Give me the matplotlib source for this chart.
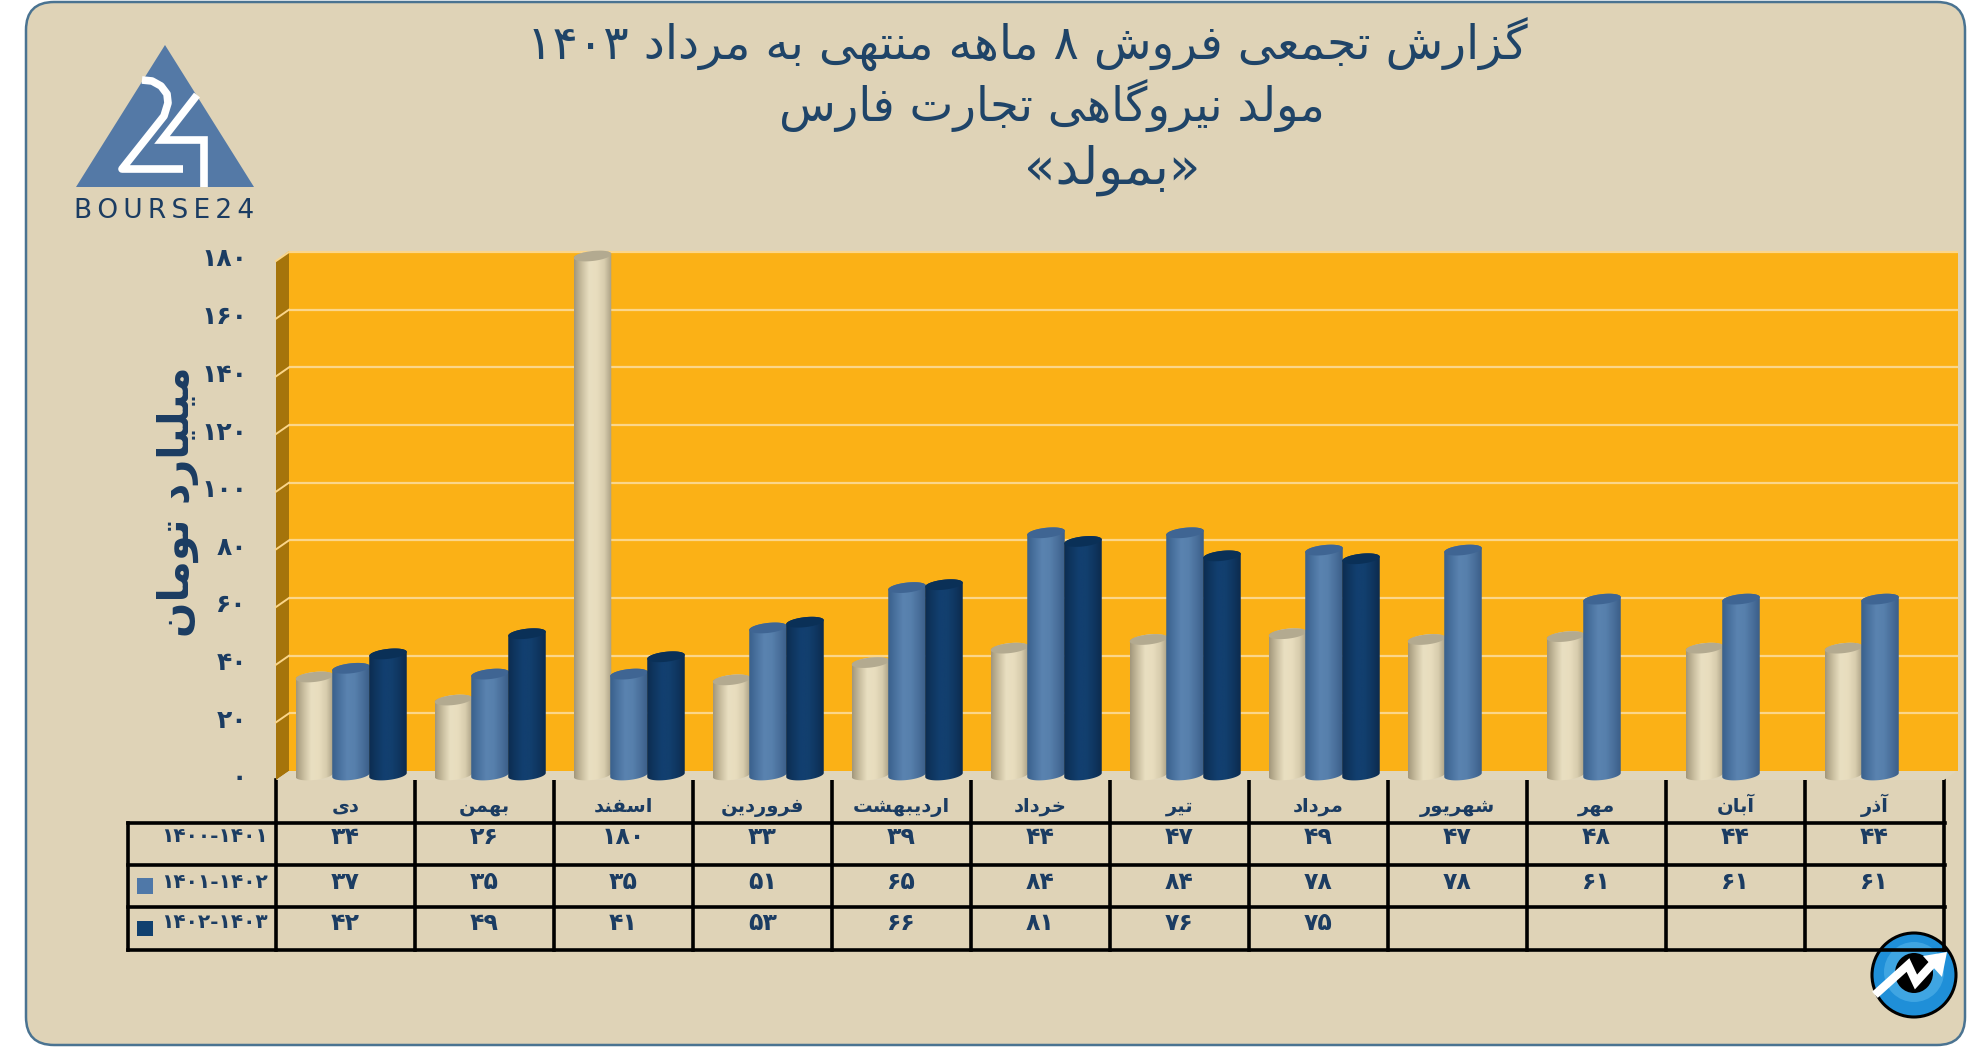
import re
import numpy as np
import matplotlib
matplotlib.use('Agg')
import matplotlib.pyplot as plt
from matplotlib.colors import LinearSegmentedColormap
from matplotlib.patches import Polygon, FancyBboxPatch, Circle, Ellipse
from matplotlib.transforms import offset_copy, Affine2D

# data
months = ['دی', 'بهمن', 'اسفند', 'فروردین', 'اردیبهشت', 'خرداد', 'تیر', 'مرداد', 'شهریور', 'مهر', 'آبان', 'آذر']
series_1 = [34, 26, 180, 33, 39, 44, 47, 49, 47, 48, 44, 44]
series_2 = [37, 35, 35, 51, 65, 84, 84, 78, 78, 61, 61, 61]
series_3 = [42, 49, 41, 53, 66, 81, 76, 75, None, None, None, None]
row_names = ['1400-1401', '1401-1402', '1402-1403']
y_ticks = [0, 20, 40, 60, 80, 100, 120, 140, 160, 180]
title_lines = ['گزارش تجمعی فروش ۸ ماهه منتهی به مرداد ۱۴۰۳', 'مولد نیروگاهی تجارت فارس', '«بمولد»']
y_title = 'میلیارد تومان'

# colours
BG = '#DFD3B7'
NAVY = '#1B3C62'
WALL = '#FBB116'
SIDE = '#A5740B'
GRID = '#FBD68A'

# matplotlib does no arabic shaping, so pick presentation forms by hand
FORMS = {
    'ا': (0xFE8D, 0xFE8E), 'آ': (0xFE81, 0xFE82), 'د': (0xFEA9, 0xFEAA), 'ذ': (0xFEAB, 0xFEAC),
    'ر': (0xFEAD, 0xFEAE), 'ز': (0xFEAF, 0xFEB0), 'و': (0xFEED, 0xFEEE),
    'ب': (0xFE8F, 0xFE90, 0xFE91, 0xFE92), 'ت': (0xFE95, 0xFE96, 0xFE97, 0xFE98),
    'ج': (0xFE9D, 0xFE9E, 0xFE9F, 0xFEA0), 'خ': (0xFEA5, 0xFEA6, 0xFEA7, 0xFEA8),
    'س': (0xFEB1, 0xFEB2, 0xFEB3, 0xFEB4), 'ش': (0xFEB5, 0xFEB6, 0xFEB7, 0xFEB8),
    'ع': (0xFEC9, 0xFECA, 0xFECB, 0xFECC), 'ف': (0xFED1, 0xFED2, 0xFED3, 0xFED4),
    'ک': (0xFB8E, 0xFB8F, 0xFB90, 0xFB91), 'گ': (0xFB92, 0xFB93, 0xFB94, 0xFB95),
    'ل': (0xFEDD, 0xFEDE, 0xFEDF, 0xFEE0), 'م': (0xFEE1, 0xFEE2, 0xFEE3, 0xFEE4),
    'ن': (0xFEE5, 0xFEE6, 0xFEE7, 0xFEE8), 'ه': (0xFEE9, 0xFEEA, 0xFEEB, 0xFEEC),
    'ی': (0xFBFC, 0xFBFD, 0xFBFE, 0xFBFF),
}
MIRROR = {'«': '»', '»': '«'}


def fa(text):
    return str(text).translate(str.maketrans('0123456789', '۰۱۲۳۴۵۶۷۸۹'))


def shape(text):
    out = ''
    for i, c in enumerate(text):
        if c not in FORMS:
            out += MIRROR.get(c, c)
            continue
        prev_c = text[i - 1] if i > 0 else ''
        next_c = text[i + 1] if i < len(text) - 1 else ''
        joins_prev = prev_c in FORMS and len(FORMS[prev_c]) == 4
        joins_next = next_c in FORMS and len(FORMS[c]) == 4
        if joins_prev and joins_next:
            form = 3
        elif joins_next:
            form = 2
        elif joins_prev:
            form = 1
        else:
            form = 0
        out += chr(FORMS[c][form])
    return ''.join(reversed(re.findall('[۰-۹]+|.', out)))


W, H = 1986, 1047
fig = plt.figure(figsize=(W / 100, H / 100), dpi=100, facecolor='white')

# page layer, in pixels of the picture
bg = fig.add_axes([0, 0, 1, 1])
bg.set_xlim(0, W)
bg.set_ylim(H, 0)
bg.axis('off')

bg.add_patch(FancyBboxPatch((51, 27), 1889, 993, boxstyle='round,pad=25,rounding_size=28',
                            fc=BG, ec='#4A7391', lw=1.8))

# titles
bg.text(1027, 44, shape(title_lines[0]), fontsize=34, color='#1F4468', ha='center', va='center')
bg.text(1052, 105, shape(title_lines[1]), fontsize=33.5, color='#1F4468', ha='center', va='center')
bg.text(1112, 170, shape(title_lines[2]), fontsize=37, color='#1F4468', ha='center', va='center')

# logo top left
bg.add_patch(Polygon([(165, 45), (76, 187), (254, 187)], fc='#5479A6', ec='none'))
bg.plot([142, 152, 161, 167, 168, 164, 122, 183], [80, 81, 86, 94, 103, 116, 169, 169], color='white', lw=5.5,
        solid_joinstyle='round', solid_capstyle='butt')
bg.plot([197, 162, 204, 204], [95, 140, 140, 187], color='white', lw=5.5,
        solid_joinstyle='miter', solid_capstyle='butt')
bg.text(164, 211, '\u2009'.join('BOURSE24'), fontsize=19, color=NAVY, ha='center', va='center')

# logo bottom right
bg.add_patch(Circle((1914, 975), 42, fc='#1F8FD8', ec='black', lw=2.2))
bg.add_patch(Circle((1914, 972), 30, fc='#55B4EA', ec='none', alpha=0.6))
bg.add_patch(Ellipse((1914, 973), 38, 40, fc='black', ec='none'))
bg.plot([1878, 1908, 1916, 1936], [992, 965, 982, 960], color='white', lw=6, solid_joinstyle='miter')
bg.add_patch(Polygon([(1947, 952), (1923, 956), (1942, 977)], fc='white', ec='none'))

# table
col_left = 276
col_w = 139
row_lines = [823, 865, 907, 950]
row_text = [837, 882, 923]
for y in row_lines:
    bg.plot([128, 1944.5], [y, y], color='black', lw=2.6, solid_capstyle='projecting')
bg.plot([128, 128], [823, 950], color='black', lw=2.6)
for i in range(13):
    bg.plot([col_left + i * col_w] * 2, [780, 950], color='black', lw=2.6)

all_series = [series_1, series_2, series_3]
for r, values in enumerate(all_series):
    bg.text(161, row_text[r], fa(row_names[r]), fontsize=14.5, fontweight='bold', color=NAVY,
            ha='left', va='center')
    for i, v in enumerate(values):
        if v is not None:
            bg.text(col_left + (i + 0.5) * col_w, row_text[r], fa(v), fontsize=17, fontweight='bold',
                    color=NAVY, ha='center', va='center')
bg.add_patch(plt.Rectangle((137, 878), 16, 16, fc='#4F78A8', ec='none'))
bg.add_patch(plt.Rectangle((137, 921), 16, 15, fc='#10406F', ec='none'))

bg.text(178, 502, shape(y_title), fontsize=30, fontweight='bold', color=NAVY, rotation=90,
        ha='center', va='center')

# chart layer: x is the month index, y the value, front edge of the floor is y=0
ax = fig.add_axes([276 / W, 1 - 780 / H, 12 * col_w / W, 519 / H])
ax.patch.set_alpha(0)
ax.set_xlim(0, 12)
ax.set_ylim(0, 180)
ax.set_autoscale_on(False)
for s in ax.spines.values():
    s.set_visible(False)

px_x = 1 / col_w
px_y = 180 / 519
dx = 13 * px_x
dy = 9 * px_y
wall_top = 180 + dy + px_y

ax.add_patch(Polygon([(dx, dy), (12 + dx + 1 * px_x, dy), (12 + dx + 1 * px_x, wall_top), (dx, wall_top)],
                     fc=WALL, ec='none', clip_on=False, zorder=1))
ax.add_patch(Polygon([(0, 0), (dx, dy), (dx, wall_top), (0, 180)], fc=SIDE, ec='none', clip_on=False, zorder=1))
ax.add_patch(Polygon([(0, 0), (dx, dy), (12 + dx, dy), (12, 0)], fc='#E0D6BC', ec='none', clip_on=False, zorder=1))

wall_tr = offset_copy(ax.transData, fig=fig, x=13, y=9, units='dots')
ax.hlines(y_ticks[1:], 0, 12 + 1 * px_x, colors=GRID, lw=1.6, transform=wall_tr, clip_on=False, zorder=2)
for t in y_ticks[1:]:
    ax.plot([0, dx], [t, t + dy], color=GRID, lw=1.4, clip_on=False, zorder=2)

ax.set_yticks(y_ticks)
ax.set_yticklabels([fa(t) for t in y_ticks], fontsize=18, fontweight='bold', color=NAVY)
ax.set_xticks(np.arange(12) + 0.5)
ax.set_xticklabels([shape(m) for m in months], fontsize=14, fontweight='bold', color=NAVY, va='baseline')
ax.tick_params(axis='y', length=0, pad=21)
ax.tick_params(axis='x', length=0, pad=23)
for lbl in ax.get_yticklabels():
    lbl.set_transform(lbl.get_transform() + Affine2D().translate(0, 4))

# cylinders
ramps = [
    ['#A2977B', '#C9BE9F', '#E9DFC1', '#E8DDBE', '#D8CDAE', '#A89E82'],
    ['#39608C', '#4A729F', '#5A83B0', '#5780AC', '#4A709C', '#3B5E88'],
    ['#0C2C50', '#0F3761', '#123F70', '#123F6E', '#0F3660', '#0C2B4E'],
]
cap_colors = ['#B3AA90', '#3F6593', '#0A3057']
offsets = [-31, 5.5, 42.5]
bar_w = 37.5 * px_x
cyl_a = bar_w / 2
cyl_b = 5 * px_y
cyl_k = 2 * px_y
base = 5 * px_y
t_low = np.linspace(np.pi, 2 * np.pi, 40)
t_up = np.linspace(0, np.pi, 40)
t_all = np.linspace(0, 2 * np.pi, 80)

for s, values in enumerate(all_series):
    cmap = LinearSegmentedColormap.from_list('c%d' % s, ramps[s])
    grad = np.linspace(0, 1, 128).reshape(1, -1)
    for i, v in enumerate(values):
        if v is None:
            continue
        cx = i + 0.5 + offsets[s] * px_x
        top = v + base
        low = np.column_stack([cx + cyl_a * np.cos(t_low), base + cyl_b * np.sin(t_low) + cyl_k * np.cos(t_low)])
        up = np.column_stack([cx + cyl_a * np.cos(t_up), top + cyl_b * np.sin(t_up) + cyl_k * np.cos(t_up)])
        body = Polygon(np.vstack([low, up]), transform=ax.transData, fc='none', ec='none')
        im = ax.imshow(grad, cmap=cmap, aspect='auto', extent=[cx - cyl_a, cx + cyl_a, -2, top + 3],
                       zorder=3 + s + i * 0.01)
        im.set_clip_path(body)
        im.set_clip_box(fig.bbox)
        cap = np.column_stack([cx + cyl_a * np.cos(t_all), top + cyl_b * np.sin(t_all) + cyl_k * np.cos(t_all)])
        ax.add_patch(Polygon(cap, fc=cap_colors[s], ec='none', clip_on=False, zorder=3 + s + i * 0.01 + 0.001))
ax.set_xlim(0, 12)
ax.set_ylim(0, 180)

fig.savefig('out.png', dpi=100, facecolor='white')
